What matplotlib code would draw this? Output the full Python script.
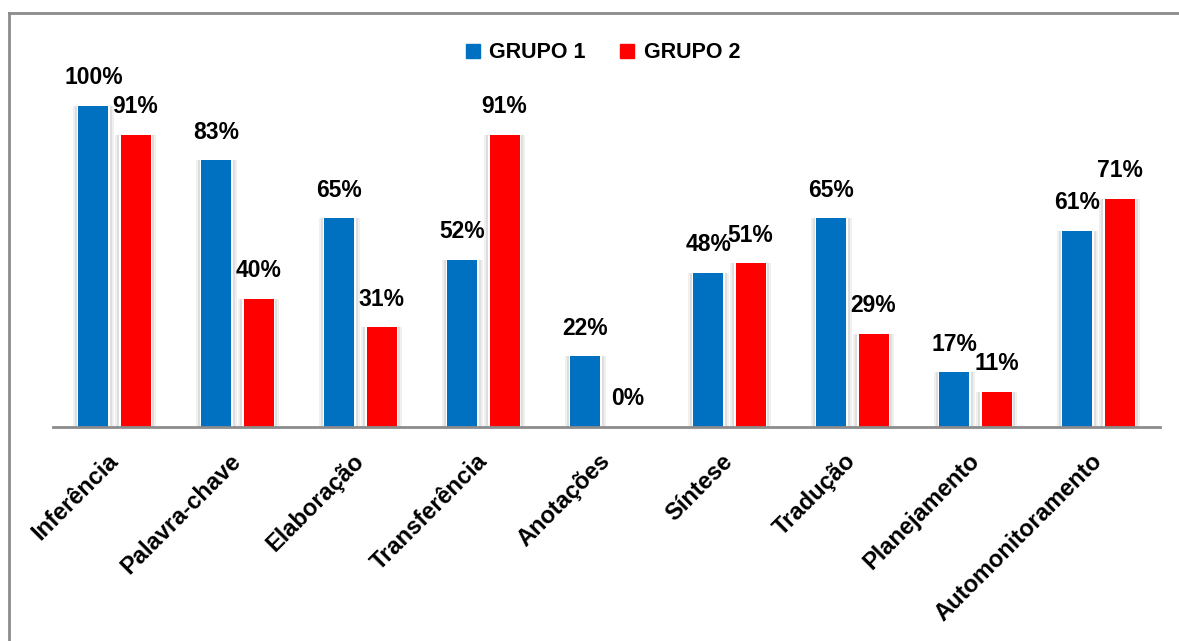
import matplotlib
matplotlib.use("Agg")
import matplotlib.pyplot as plt
import numpy as np
from matplotlib.lines import Line2D

plt.rcParams['font.family'] = ['Liberation Sans', 'DejaVu Sans']

categorias = ["Inferência", "Palavra-chave", "Elaboração", "Transferência", "Anotações",
              "Síntese", "Tradução", "Planejamento", "Automonitoramento"]
grupo1 = [100, 83, 65, 52, 22, 48, 65, 17, 61]
grupo2 = [91, 40, 31, 91, 0, 51, 29, 11, 71]
series = ["GRUPO 1", "GRUPO 2"]
cores = ["#0070C0", "#FF0000"]

W, H = 1179, 641
fig = plt.figure(figsize=(W / 100, H / 100), dpi=100)
fig.patch.set_facecolor("white")

# plot area in pixel terms
left, right, base, top = 53, 1160, 427, 60
ax = fig.add_axes([left / W, (H - base) / H, (right - left) / W, (base - top) / H])
ax.set_xlim(-0.5, len(categorias) - 0.5)
ax.set_ylim(0, 114.3)

x = np.arange(len(categorias))
off = 0.171
larg = 0.244

for valores, cor, sinal in [(grupo1, cores[0], -1), (grupo2, cores[1], 1)]:
    pos = x + sinal * off
    # soft shadow around each bar
    ax.bar(pos, valores, width=larg + 0.09, color="#f0f0f0", zorder=1)
    ax.bar(pos, valores, width=larg + 0.055, color="#dedede", zorder=1.5)
    ax.bar(pos, valores, width=larg + 0.03, color="white", zorder=2)
    ax.bar(pos, valores, width=larg, color=cor, zorder=3)
    for p, v in zip(pos, valores):
        ax.annotate(f"{v}%", (p, v), xytext=(0, 12), textcoords="offset points",
                    ha="center", va="bottom", fontsize=16.5, fontweight="bold", zorder=4)

for s in ["top", "right", "left"]:
    ax.spines[s].set_visible(False)
ax.spines["bottom"].set_color("#8c8c8c")
ax.spines["bottom"].set_linewidth(2)
ax.spines["bottom"].set_zorder(5)
ax.set_yticks([])
ax.set_xticks(x)
ax.set_xticklabels(categorias, rotation=45, ha="right", va="center",
                   rotation_mode="anchor", fontsize=17, fontweight="bold")
ax.tick_params(axis="x", length=0, pad=22)

handles = [plt.Rectangle((0, 0), 1, 1, color=c) for c in cores]
fig.legend(handles, series, loc="center", bbox_to_anchor=(603 / W, 1 - 53 / H),
           ncol=2, frameon=False, handlelength=0.65, handleheight=0.65,
           handletextpad=0.45, columnspacing=1.6,
           prop={"size": 15.5, "weight": "bold"})

# outer frame
fig.add_artist(Line2D([9 / W, 1.0], [1 - 13 / H, 1 - 13 / H], color="#8c8c8c", lw=2,
                      transform=fig.transFigure))
fig.add_artist(Line2D([9 / W, 9 / W], [0, 1 - 13 / H], color="#8c8c8c", lw=2,
                      transform=fig.transFigure))

fig.savefig("out.png", dpi=100, facecolor="white")
